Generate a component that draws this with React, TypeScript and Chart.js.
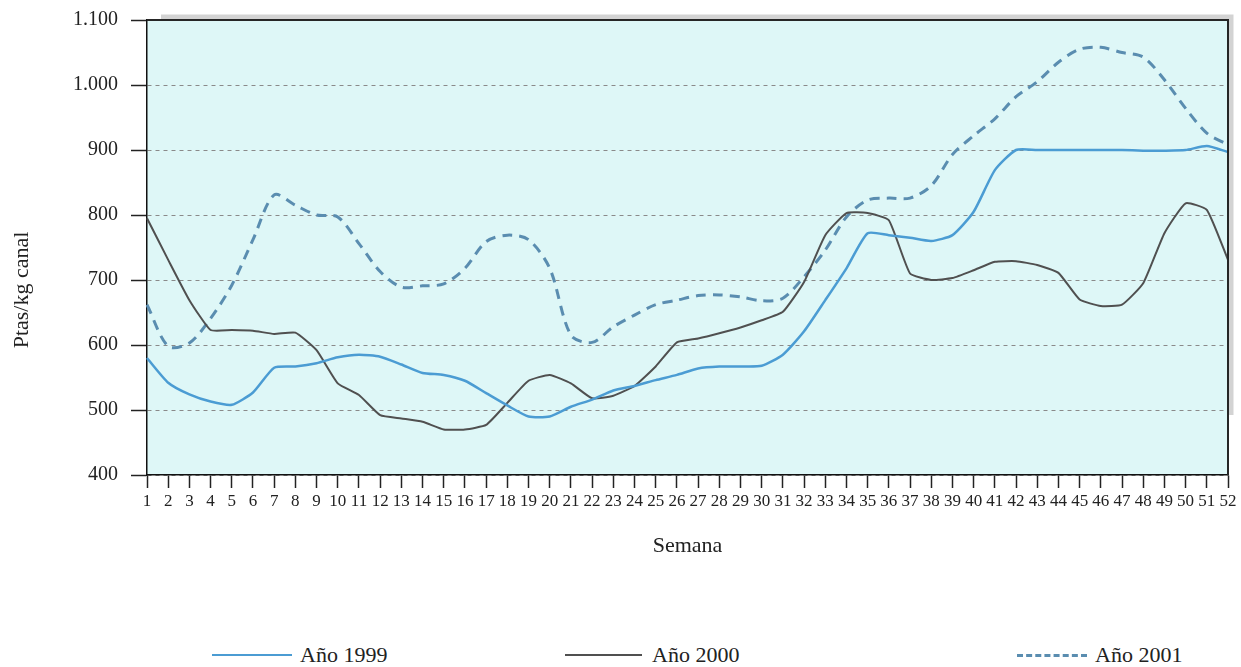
import React, { useEffect, useRef } from "react";
import { Chart, registerables } from "chart.js";

Chart.register(...registerables);

const weeks = [
  "1", "2", "3", "4", "5", "6", "7", "8", "9", "10",
  "11", "12", "13", "14", "15", "16", "17", "18", "19", "20",
  "21", "22", "23", "24", "25", "26", "27", "28", "29", "30",
  "31", "32", "33", "34", "35", "36", "37", "38", "39", "40",
  "41", "42", "43", "44", "45", "46", "47", "48", "49", "50",
  "51", "52",
];

const year1999 = [
  580, 542, 524, 513, 508, 527, 565, 567, 572, 581,
  585, 582, 570, 557, 554, 545, 526, 507, 490, 490,
  505, 516, 530, 537, 546, 554, 564, 567, 567, 568,
  585, 621, 669, 718, 772, 769, 765, 760, 769, 805,
  869, 900, 900, 900, 900, 900, 900, 899, 899, 900,
  906, 897,
];

const year2000 = [
  795, 731, 669, 623, 623, 622, 617, 619, 592, 541,
  523, 492, 487, 482, 470, 470, 477, 511, 545, 554,
  541, 518, 522, 537, 567, 604, 610, 618, 627, 638,
  651, 697, 769, 803, 803, 792, 710, 700, 703, 715,
  728, 729, 723, 711, 670, 660, 662, 695, 772, 818,
  808, 731,
];

const year2001 = [
  662, 598, 603, 641, 692, 762, 831, 815, 800, 797,
  756, 713, 689, 691, 694, 718, 759, 769, 762, 718,
  615, 604, 628, 646, 662, 669, 676, 677, 674, 668,
  672, 705, 746, 797, 823, 826, 826, 845, 893, 922,
  948, 982, 1005, 1035, 1055, 1058, 1050, 1043, 1008, 964,
  926, 908,
];

const yTickValues = [400, 500, 600, 700, 800, 900, 1000, 1100];

const seriesNames = ["Año 1999", "Año 2000", "Año 2001"];
const xTitle = "Semana";
const yTitle = "Ptas/kg canal";

const C1999 = "#4b9cd3";
const C2000 = "#505050";
const C2001 = "#5a8db0";
const FONT = '"Liberation Serif", "DejaVu Serif", serif';

function fmt(v: number): string {
  if (v >= 1000) {
    const th = Math.floor(v / 1000);
    const rest = String(v % 1000).padStart(3, "0");
    return `${th}.${rest}`;
  }
  return String(v);
}

const decor = {
  id: "decor",
  beforeDraw(chart: any) {
    const { ctx, chartArea: a } = chart;
    ctx.save();
    ctx.fillStyle = "#def7f7";
    ctx.fillRect(a.left, a.top, a.right - a.left, a.bottom - a.top);
    ctx.restore();
  },
  afterDraw(chart: any) {
    const { ctx, chartArea: a } = chart;
    ctx.save();
    ctx.strokeStyle = "rgba(110,110,110,0.3)";
    ctx.lineWidth = 5;
    ctx.beginPath();
    ctx.moveTo(a.left + 14, a.top - 3);
    ctx.lineTo(a.right + 3, a.top - 3);
    ctx.lineTo(a.right + 3, a.bottom - 60);
    ctx.stroke();
    ctx.strokeStyle = "#262626";
    ctx.lineWidth = 2;
    ctx.beginPath();
    ctx.moveTo(a.left, a.top);
    ctx.lineTo(a.right, a.top);
    ctx.lineTo(a.right, a.bottom);
    ctx.stroke();

    ctx.fillStyle = "#222";
    ctx.font = `22px ${FONT}`;
    ctx.textAlign = "center";
    ctx.textBaseline = "middle";
    ctx.fillText(xTitle, (a.left + a.right) / 2, 546);
    ctx.translate(22, 290);
    ctx.rotate(-Math.PI / 2);
    ctx.fillText(yTitle, 0, 0);
    ctx.restore();
  },
};

export default function App() {
  const ref = useRef<HTMLCanvasElement | null>(null);

  useEffect(() => {
    if (!ref.current) return;
    const chart = new Chart(ref.current, {
      type: "line",
      data: {
        labels: weeks,
        datasets: [
          {
            label: seriesNames[0],
            data: year1999,
            borderColor: C1999,
            borderWidth: 2.5,
            pointRadius: 0,
            tension: 0.2,
            fill: false,
          },
          {
            label: seriesNames[1],
            data: year2000,
            borderColor: C2000,
            borderWidth: 2,
            pointRadius: 0,
            tension: 0.15,
            fill: false,
          },
          {
            label: seriesNames[2],
            data: year2001,
            borderColor: C2001,
            borderWidth: 3,
            borderDash: [10, 7],
            pointRadius: 0,
            tension: 0.3,
            fill: false,
          },
        ],
      },
      options: {
        responsive: false,
        animation: false,
        devicePixelRatio: 1,
        layout: { padding: { top: 20, right: 13, left: 0, bottom: 0 } },
        plugins: {
          legend: { display: false },
          tooltip: { enabled: false },
        },
        scales: {
          x: {
            type: "category",
            offset: false,
            afterFit: (s: any) => {
              s.height = 125;
              s.paddingLeft = 0;
              s.paddingRight = 0;
            },
            grid: {
              drawOnChartArea: false,
              drawTicks: true,
              tickLength: 13,
              tickColor: "#222",
              tickWidth: 1.5,
            },
            border: { display: true, color: "#111", width: 1.5 },
            ticks: {
              autoSkip: false,
              maxRotation: 0,
              minRotation: 0,
              padding: 3,
              color: "#222",
              font: { family: FONT, size: 17 },
            },
          },
          y: {
            min: 400,
            max: 1100,
            afterFit: (s: any) => {
              s.width = 147;
              s.paddingTop = 0;
              s.paddingBottom = 0;
            },
            afterBuildTicks: (s: any) => {
              s.ticks = yTickValues.map((v) => ({ value: v }));
            },
            grid: {
              color: "#8a8a8a",
              lineWidth: 1,
              drawTicks: true,
              tickLength: 16,
              tickColor: "#222",
              tickWidth: 1.5,
              tickBorderDash: [],
            },
            border: { display: true, color: "#111", width: 1.5, dash: [4, 4] },
            ticks: {
              padding: 13,
              color: "#222",
              font: { family: FONT, size: 20 },
              callback: (v: any) => fmt(Number(v)),
            },
          },
        },
      },
      plugins: [decor],
    } as any);
    return () => chart.destroy();
  }, []);

  const legendText: React.CSSProperties = {
    position: "absolute",
    font: `22px ${FONT}`,
    color: "#222",
    lineHeight: "24px",
    top: 643,
    whiteSpace: "nowrap",
  };

  return (
    <div
      style={{
        position: "fixed",
        left: 0,
        top: 0,
        width: 1241,
        height: 667,
        background: "#fff",
      }}
    >
      <canvas ref={ref} width={1241} height={600} style={{ display: "block" }} />
      <div style={{ position: "absolute", left: 212, top: 654, width: 80, borderTop: `2.5px solid ${C1999}` }} />
      <span style={{ ...legendText, left: 300 }}>{seriesNames[0]}</span>
      <div style={{ position: "absolute", left: 565, top: 654, width: 77, borderTop: `2px solid ${C2000}` }} />
      <span style={{ ...legendText, left: 652 }}>{seriesNames[1]}</span>
      <div style={{ position: "absolute", left: 1017, top: 654, width: 70, borderTop: `3px dashed ${C2001}` }} />
      <span style={{ ...legendText, left: 1095 }}>{seriesNames[2]}</span>
    </div>
  );
}
